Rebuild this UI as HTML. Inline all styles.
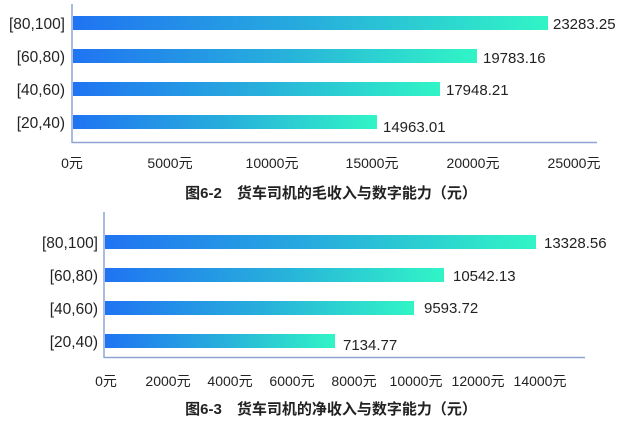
<!DOCTYPE html>
<html><head><meta charset="utf-8"><style>
body{margin:0;background:#fff;}
svg text{font-family:"Liberation Sans","Noto Sans CJK SC",sans-serif;fill:#222;}
</style></head><body>
<svg width="623" height="431" viewBox="0 0 623 431" xmlns="http://www.w3.org/2000/svg">
<defs>
<linearGradient id="g" x1="0" x2="1" y1="0" y2="0">
<stop offset="0" stop-color="#2074f2"/><stop offset="0.5" stop-color="#27aedc"/><stop offset="1" stop-color="#31f5c6"/>
</linearGradient>
</defs>
<!-- chart 1 -->
<line x1="72" y1="4" x2="72" y2="143" stroke="#8ea3d6" stroke-width="1.5"/>
<line x1="72" y1="142.5" x2="597" y2="142.5" stroke="#8ea3d6" stroke-width="1.5"/>
<rect x="73" y="16" width="475" height="14" fill="url(#g)"/>
<rect x="73" y="49" width="404" height="14" fill="url(#g)"/>
<rect x="73" y="82" width="367" height="14" fill="url(#g)"/>
<rect x="73" y="115" width="304" height="14" fill="url(#g)"/>
<g font-size="15.5" text-anchor="end">
<text x="65" y="29">[80,100]</text><text x="65" y="62">[60,80)</text><text x="65" y="95">[40,60)</text><text x="65" y="128">[20,40)</text>
</g>
<g font-size="15">
<text x="553" y="29">23283.25</text><text x="483" y="63">19783.16</text><text x="446" y="95">17948.21</text><text x="383" y="132">14963.01</text>
</g>
<g font-size="14" text-anchor="middle">
<text x="72" y="168">0元</text><text x="170" y="168">5000元</text><text x="272" y="168">10000元</text><text x="372" y="168">15000元</text><text x="473" y="168">20000元</text><text x="574" y="168">25000元</text>
</g>
<text x="331" y="198" font-size="15" font-weight="bold" text-anchor="middle">图6-2　货车司机的毛收入与数字能力（元）</text>
<!-- chart 2 -->
<line x1="104" y1="212" x2="104" y2="358" stroke="#8ea3d6" stroke-width="1.5"/>
<line x1="104" y1="357.5" x2="585" y2="357.5" stroke="#8ea3d6" stroke-width="1.5"/>
<rect x="105" y="235" width="431" height="14" fill="url(#g)"/>
<rect x="105" y="268" width="339" height="14" fill="url(#g)"/>
<rect x="105" y="301" width="309" height="14" fill="url(#g)"/>
<rect x="105" y="334" width="230" height="14" fill="url(#g)"/>
<g font-size="15.5" text-anchor="end">
<text x="98" y="248">[80,100]</text><text x="98" y="281">[60,80)</text><text x="98" y="314">[40,60)</text><text x="98" y="347">[20,40)</text>
</g>
<g font-size="15">
<text x="544" y="248">13328.56</text><text x="453" y="281">10542.13</text><text x="424" y="313">9593.72</text><text x="343" y="350">7134.77</text>
</g>
<g font-size="14" text-anchor="middle">
<text x="106" y="386">0元</text><text x="168" y="386">2000元</text><text x="230" y="386">4000元</text><text x="292" y="386">6000元</text><text x="354" y="386">8000元</text><text x="416" y="386">10000元</text><text x="478" y="386">12000元</text><text x="540" y="386">14000元</text>
</g>
<text x="331" y="414" font-size="15" font-weight="bold" text-anchor="middle">图6-3　货车司机的净收入与数字能力（元）</text>
</svg>
</body></html>
